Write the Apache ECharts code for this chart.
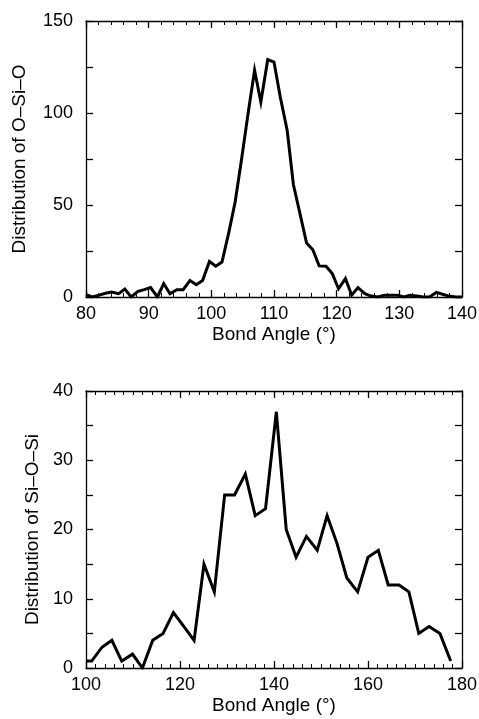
<!DOCTYPE html>
<html>
<head>
<meta charset="utf-8">
<script src="https://cdn.jsdelivr.net/npm/echarts@6/dist/echarts.min.js"></script>
<style>
html,body{margin:0;padding:0;background:#fff;}
#chart{width:479px;height:719px;}
</style>
</head>
<body>
<div id="chart"></div>
<script>
// Top panel: O–Si–O bond angle distribution
const osioAngle = [80.0, 81.0, 82.1, 83.1, 84.1, 85.2, 86.2, 87.2, 88.3, 89.3,
  90.3, 91.4, 92.4, 93.4, 94.5, 95.5, 96.6, 97.6, 98.6, 99.7,
  100.7, 101.7, 102.8, 103.8, 104.8, 105.9, 106.9, 107.9, 109.0, 110.0,
  111.0, 112.1, 113.1, 114.1, 115.2, 116.2, 117.2, 118.3, 119.3, 120.3,
  121.4, 122.4, 123.4, 124.5, 125.5, 126.6, 127.6, 128.6, 129.7, 130.7,
  131.7, 132.8, 133.8, 134.8, 135.9, 136.9, 137.9, 139.0, 140.0];
const osioCount = [1.3, 0, 1, 2, 2.7, 1.8, 4.3, 0, 3.1, 4,
  5.1, 0, 7.3, 1.8, 4, 4, 9, 6.7, 9, 19.3,
  16.7, 19, 35.3, 51.6, 74.3, 100.5, 123.2, 106, 129, 127.7,
  108.7, 90.6, 61, 46, 29.3, 25.7, 16.9, 16.7, 12.7, 4.5,
  10, 1, 5.1, 1.8, 0.5, 0, 1, 1, 1, 0,
  1, 0.5, 0, 0, 2.5, 1.5, 0.5, 0, 0];

// Bottom panel: Si–O–Si bond angle distribution
const siosiAngle = [100.0, 101.2, 103.4, 105.5, 107.6, 109.9, 112.0, 114.2, 116.4, 118.6,
  120.8, 123.0, 125.1, 127.3, 129.5, 131.6, 133.9, 136.0, 138.2, 140.5,
  142.6, 144.7, 146.9, 149.2, 151.3, 153.4, 155.5, 157.8, 160.0, 162.2,
  164.3, 166.6, 168.7, 170.8, 173.0, 175.3, 177.6];
const siosiCount = [1, 1, 3, 4, 1, 2, 0, 4, 5, 8,
  6, 4, 15, 11, 25, 25, 28, 22, 23, 37,
  20, 16, 19, 17, 22, 18, 13, 11, 16, 17,
  12, 12, 11, 5, 6, 5, 1];

const xTitle = 'Bond Angle (°)';
const yTitleTop = 'Distribution of O–Si–O';
const yTitleBottom = 'Distribution of Si–O–Si';

const FONT = '"Liberation Sans", Arial, Helvetica, sans-serif';
const black = '#000';

function frameAxis(extra) {
  return Object.assign({
    type: 'value',
    axisLine: {show: true, onZero: false, lineStyle: {color: black, width: 1.3}},
    axisTick: {show: true, inside: true, length: 7, lineStyle: {color: black, width: 1.3}},
    splitLine: {show: false},
    axisLabel: {show: false}
  }, extra);
}
function labelStyle(margin) {
  return {show: true, color: black, fontSize: 18, fontFamily: FONT, margin: margin};
}
const nameStyle = {color: black, fontSize: 19, fontFamily: FONT};

const zip = (a, b) => a.map((v, i) => [v, b[i]]);

const chart = echarts.init(document.getElementById('chart'), null, {renderer: 'canvas'});
chart.setOption({
  backgroundColor: '#fff',
  animation: false,
  grid: [
    {left: 86, right: 17, top: 21, height: 276, outerBoundsMode: 'none', containLabel: false},
    {left: 86, right: 17, top: 391, height: 277, outerBoundsMode: 'none', containLabel: false}
  ],
  xAxis: [
    frameAxis({gridIndex: 0, position: 'bottom', min: 80, max: 140, interval: 10,
      minorTick: {show: true, splitNumber: 5, length: 4, lineStyle: {color: black, width: 1}},
      axisLabel: labelStyle(8),
      name: xTitle, nameLocation: 'middle', nameGap: 28, nameTextStyle: nameStyle}),
    frameAxis({gridIndex: 0, position: 'top', min: 80, max: 140, interval: 10,
      minorTick: {show: true, splitNumber: 5, length: 4, lineStyle: {color: black, width: 1}}}),
    frameAxis({gridIndex: 1, position: 'bottom', min: 100, max: 180, interval: 20,
      minorTick: {show: true, splitNumber: 10, length: 4, lineStyle: {color: black, width: 1}},
      axisLabel: labelStyle(8),
      name: xTitle, nameLocation: 'middle', nameGap: 28, nameTextStyle: nameStyle}),
    frameAxis({gridIndex: 1, position: 'top', min: 100, max: 180, interval: 20,
      minorTick: {show: true, splitNumber: 10, length: 4, lineStyle: {color: black, width: 1}}})
  ],
  yAxis: [
    frameAxis({gridIndex: 0, position: 'left', min: 0, max: 150, interval: 50,
      minorTick: {show: true, splitNumber: 2, length: 7, lineStyle: {color: black, width: 1.3}},
      axisLabel: labelStyle(13),
      name: yTitleTop, nameLocation: 'middle', nameGap: 57, nameTextStyle: nameStyle}),
    frameAxis({gridIndex: 0, position: 'right', min: 0, max: 150, interval: 50,
      minorTick: {show: true, splitNumber: 2, length: 7, lineStyle: {color: black, width: 1.3}}}),
    frameAxis({gridIndex: 1, position: 'left', min: 0, max: 40, interval: 10,
      minorTick: {show: true, splitNumber: 2, length: 7, lineStyle: {color: black, width: 1.3}},
      axisLabel: labelStyle(13),
      name: yTitleBottom, nameLocation: 'middle', nameGap: 43, nameTextStyle: nameStyle}),
    frameAxis({gridIndex: 1, position: 'right', min: 0, max: 40, interval: 10,
      minorTick: {show: true, splitNumber: 2, length: 7, lineStyle: {color: black, width: 1.3}}})
  ],
  series: [
    {type: 'line', xAxisIndex: 0, yAxisIndex: 0, data: zip(osioAngle, osioCount),
      showSymbol: false, symbol: 'none', clip: true,
      lineStyle: {color: black, width: 3, join: 'miter'}},
    {type: 'line', xAxisIndex: 2, yAxisIndex: 2, data: zip(siosiAngle, siosiCount),
      showSymbol: false, symbol: 'none', clip: true,
      lineStyle: {color: black, width: 3, join: 'miter'}}
  ]
});
</script>
</body>
</html>
